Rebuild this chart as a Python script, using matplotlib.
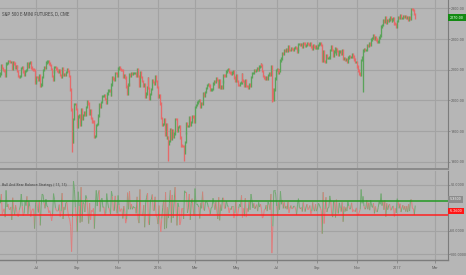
import numpy as np
import matplotlib.pyplot as plt
from matplotlib import font_manager
from matplotlib.collections import LineCollection

# daily closes, one list per month (May 7 2015 .. Jan 31 2017)
closes_by_month = [
    [2088, 2116, 2105, 2099, 2098, 2081, 2121, 2122, 2129, 2128, 2125, 2126, 2104, 2123, 2120, 2107],
    [2112, 2110, 2096, 2080, 2077, 2080, 2105, 2108, 2094, 2084, 2096, 2100, 2121, 2110, 2122, 2124,
     2108, 2102, 2101, 2099, 2057, 2063],
    [2077, 2076, 2068, 2081, 2047, 2052, 2077, 2100, 2109, 2108, 2124, 2127, 2129, 2120, 2115, 2103,
     2080, 2068, 2094, 2109, 2109, 2104],
    [2098, 2093, 2099, 2083, 2077, 2104, 2084, 2086, 2083, 2092, 2102, 2096, 2079, 2035, 1971, 1893,
     1867, 1940, 1988, 1989, 1972],
    [1914, 1948, 1951, 1921, 1970, 1942, 1953, 1961, 1953, 1978, 1996, 1990, 1958, 1967, 1943, 1939,
     1932, 1931, 1881, 1884, 1920],
    [1923, 1951, 1987, 1980, 1995, 2014, 2015, 2017, 2004, 1994, 2023, 2033, 2033, 2030, 2018, 2052,
     2075, 2071, 2066, 2090, 2089, 2079],
    [2104, 2109, 2102, 2100, 2099, 2078, 2081, 2075, 2045, 2023, 2053, 2051, 2084, 2082, 2089, 2087,
     2089, 2089, 2090, 2080],
    [2102, 2080, 2049, 2091, 2077, 2063, 2047, 2052, 2012, 2022, 2043, 2073, 2041, 2006, 2021, 2038,
     2065, 2061, 2056, 2078, 2063, 2044],
    [2012, 2016, 1990, 1943, 1922, 1923, 1938, 1890, 1922, 1880, 1881, 1860, 1869, 1907, 1877, 1903,
     1883, 1893, 1940],
    [1939, 1903, 1913, 1915, 1880, 1853, 1852, 1851, 1829, 1864, 1895, 1927, 1917, 1917, 1945, 1921,
     1930, 1949, 1948, 1932],
    [1978, 1986, 1994, 1999, 2001, 1980, 1990, 1989, 2022, 2020, 2015, 2027, 2040, 2050, 2052, 2049,
     2036, 2036, 2037, 2056, 2064, 2060],
    [2073, 2067, 2045, 2066, 2041, 2047, 2042, 2062, 2082, 2081, 2080, 2094, 2100, 2102, 2092, 2091,
     2087, 2091, 2095, 2075, 2065],
    [2081, 2064, 2051, 2050, 2057, 2059, 2084, 2065, 2064, 2047, 2066, 2048, 2047, 2040, 2052, 2048,
     2076, 2090, 2090, 2099, 2097],
    [2099, 2105, 2099, 2110, 2112, 2119, 2116, 2096, 2079, 2075, 2072, 2077, 2071, 2083, 2089, 2085,
     2113, 2037, 2001, 2036, 2071, 2099],
    [2103, 2089, 2100, 2096, 2130, 2137, 2153, 2152, 2163, 2162, 2166, 2163, 2175, 2165, 2164, 2169,
     2167, 2166, 2170, 2173],
    [2171, 2157, 2164, 2183, 2183, 2181, 2182, 2175, 2186, 2185, 2178, 2180, 2187, 2183, 2182, 2187,
     2175, 2169, 2180, 2176, 2170, 2177, 2171],
    [2171, 2180, 2186, 2186, 2181, 2128, 2160, 2128, 2125, 2147, 2139, 2139, 2140, 2164, 2177, 2165,
     2146, 2160, 2171, 2151, 2168],
    [2161, 2150, 2160, 2160, 2153, 2164, 2136, 2139, 2132, 2133, 2127, 2140, 2144, 2141, 2141, 2151,
     2143, 2139, 2133, 2126, 2126],
    [2111, 2097, 2088, 2085, 2131, 2140, 2163, 2167, 2164, 2164, 2180, 2177, 2187, 2182, 2198, 2203,
     2204, 2213, 2202, 2205, 2199],
    [2191, 2192, 2205, 2212, 2241, 2246, 2260, 2256, 2271, 2253, 2262, 2258, 2263, 2270, 2265, 2261,
     2264, 2268, 2250, 2249, 2239],
    [2258, 2270, 2269, 2277, 2269, 2269, 2275, 2271, 2275, 2268, 2272, 2264, 2271, 2265, 2281, 2298,
     2297, 2295, 2281, 2270],
]
first_open = 2080
wick = 4
# (bar index, low) for the long lower shadows
spike_lows = [(75, 1831), (177, 1804), (193, 1802), (286, 1995), (382, 2028)]

# Bull And Bear Balance values, same month blocks
bbb_by_month = [
    [10, 30, -13, -7, -2, -20, 38, 2, 8, -2, -4, 2, -26, 22, -4, -15],
    [6, -3, -17, -19, -4, 4, 30, 4, -17, -12, 14, 5, 25, -13, 14, 3, -19, -7, -2, -3, -45, 8],
    [17, -1, -10, 16, -38, 6, 30, 28, 11, -1, 19, 4, 2, -11, -6, -14, -28, -14, 31, 18, 0, -6],
    [-7, -6, 7, -19, -7, 32, -24, 2, -4, 11, 12, -7, -20, -25, -40, -95, -20, 58, 40, 1, -20],
    [-52, 35, 4, -32, 45, -30, 12, 9, -9, 27, 20, -7, -34, 10, -26, -5, -8, -1, -45, 4, 38],
    [4, 30, 38, -8, 17, 21, 1, 2, -15, -12, 31, 12, 0, -4, -14, 36, 25, -5, -6, 26, -1, -12],
    [27, 6, -8, -3, -2, -23, 4, -7, -33, -24, 33, -3, 36, -3, 8, -3, 3, 0, 1, -12],
    [24, -24, -33, 40, -15, -15, -17, 6, -42, 11, 23, 32, -34, -37, 16, 18, 29, -5, -6, 24, -16, -20],
    [-35, 5, -28, -52, -23, 1, 16, -46, 34, -44, 1, -22, 10, 38, -32, 28, -22, 11, 45],
    [-1, -38, 11, 2, -37, -29, -1, -1, -24, 37, 33, 34, -11, 0, 30, -26, 10, 20, -1, -17],
    [42, 9, 9, 6, 2, -23, 11, -1, 35, -2, -6, 13, 14, 11, 2, -3, -14, 0, 1, 21, 9, -4],
    [14, -7, -24, 23, -27, 7, -6, 22, 22, -1, -1, 15, 7, 2, -11, -1, -4, 4, 4, -22, -11],
    [17, -18, -14, -1, 8, 2, 27, -21, -1, -18, 21, -20, -1, -8, 13, -4, 30, 15, 0, 10, -2],
    [2, 7, -7, 12, 2, 8, -3, -22, -19, -4, -3, 6, -7, 13, 7, -4, 30, -98, -40, 38, 38, 30],
    [4, -15, 12, -4, 36, 8, 17, -1, 12, -1, 4, -3, 13, -11, -1, 5, -2, -1, 4, 3],
    [-2, -15, 8, 20, 0, -2, 1, -8, 12, -1, -8, 2, 8, -4, -1, 5, -13, -7, 12, -4, -7, 8, -7],
    [0, 10, 7, 0, -6, -56, 34, -34, -3, 23, -9, 0, 1, 26, 14, -13, -20, 15, 12, -21, 18],
    [-8, -12, 11, 0, -8, 12, -30, 3, -8, 1, -7, 14, 4, -3, 0, 11, -9, -4, -7, -8, 0],
    [-16, -15, -10, -3, 40, 10, 25, 4, -3, 0, 17, -3, 11, -5, 17, 5, 1, 10, -12, 3, -7],
    [-9, 1, 14, 8, 31, 5, 15, -4, 16, -19, 10, -4, 5, 8, -5, -4, 3, 4, -19, -1, -11],
    [20, 13, -1, 9, -9, 0, 6, -4, 4, -8, 4, -9, 8, -7, 17, 18, -1, -2, -15, 5],
]
bull_level = 15
bear_level = -15
last_bull = 5.35
last_bear = -5.26

# labels for month starts (May 2015 .. Mar 2017); Feb 2017 has 20 sessions
month_names = ['May', 'Jun', 'Jul', 'Aug', 'Sep', 'Oct', 'Nov', 'Dec', '2016', 'Feb', 'Mar', 'Apr',
               'May', 'Jun', 'Jul', 'Aug', 'Sep', 'Oct', 'Nov', 'Dec', '2017', 'Feb', 'Mar']
feb_2017_sessions = 20
shown_months = ['Jul', 'Sep', 'Nov', '2016', 'Mar', 'May', 'Jul', 'Sep', 'Nov', '2017', 'Mar']

price_ticks = [1800, 1900, 2000, 2100, 2200, 2300]
bbb_ticks = [50, -50, -100]

bg = '#b6b6b6'
grid_c = '#a3a3a3'
green = '#5aa35a'
red = '#e56a6a'
txt = '#626262'

# a narrow face if one is installed, else plain sans
have = {f.name for f in font_manager.fontManager.ttflist}
fam = 'DejaVu Sans'
for cand in ['Liberation Sans Narrow', 'DejaVu Sans Condensed', 'Roboto Condensed',
             'Open Sans Condensed', 'Liberation Sans']:
    if cand in have:
        fam = cand
        break
narrow = [fam, 'DejaVu Sans']

close = np.concatenate([np.array(m, float) for m in closes_by_month])
bbb = np.concatenate([np.array(m, float) for m in bbb_by_month])
n = len(close)
x = np.arange(n)
open_ = np.r_[first_open, close[:-1]]
up = close >= open_
high = np.maximum(open_, close) + wick
low = np.minimum(open_, close) - wick
for i, v in spike_lows:
    low[i] = v

lens = [len(m) for m in closes_by_month] + [feb_2017_sessions]
starts = np.r_[0, np.cumsum(lens)]
tick_pos = []
tick_lab = []
j = 0
for pos, name in zip(starts, month_names):
    if pos > 0 and j < len(shown_months) and name == shown_months[j]:
        tick_pos.append(pos)
        tick_lab.append(name)
        j += 1

W, H = 466, 275
fig = plt.figure(figsize=(W / 100, H / 100), dpi=100, facecolor=bg)
renderer = fig.canvas.get_renderer()


def fit_size(s, target_px):
    t = fig.text(0, 0, s, fontsize=10, family=narrow)
    w = t.get_window_extent(renderer).width
    t.remove()
    return 10 * target_px / w


fs_title = fit_size('S&P 500 E-MINI FUTURES, D, CME', 68)
fs_ind = fit_size('Bull And Bear Balance Strategy (-15, 15)', 64)
fs_y = fit_size('2300.00', 13.5)
fs_x = fit_size('2016', 8.5)

ax1 = fig.add_axes([0, 1 - 169 / H, 448 / W, 169 / H], facecolor=bg)
ax2 = fig.add_axes([0, 1 - 260 / H, 448 / W, 89 / H], facecolor=bg)
xlim = (-0.4, 471.5)

# price pane
ax1.vlines(x, low, high, colors=np.where(up, green, red), linewidth=0.95)
ax1.set_xlim(*xlim)
ax1.set_ylim(1777, 2327)
ax1.set_yticks(price_ticks)
ax1.set_yticklabels(['%.2f' % v for v in price_ticks])
ax1.set_xticks(tick_pos)
ax1.tick_params(axis='x', length=0, labelbottom=False)
ax1.annotate('%.2f' % close[-1], xy=(1, close[-1]), xycoords=('axes fraction', 'data'),
             xytext=(1.4, 0), textcoords='offset points', va='center', ha='left',
             fontsize=fs_y, family=narrow, color='#e8ffe8',
             bbox=dict(boxstyle='square,pad=0.4', fc='#138a13', ec='none'), annotation_clip=False)
fig.text(2 / W, 1 - 14 / H, 'S&P 500 E-MINI FUTURES, D, CME', fontsize=fs_title, family=narrow,
         color='#4a4a4a', va='center')

# indicator pane
pts = np.column_stack([x, bbb]).reshape(-1, 1, 2)
segs = np.concatenate([pts[:-1], pts[1:]], axis=1)
seg_cols = np.where(bbb[1:] >= 0, '#72a872', '#df7e7e')
ax2.add_collection(LineCollection(segs, colors=seg_cols, linewidths=0.7))
ax2.axhline(bull_level, color='#229a22', lw=1.1)
ax2.axhline(bear_level, color='#ff2020', lw=1.1)
ax2.set_xlim(*xlim)
ax2.set_ylim(-113, 80)
ax2.set_yticks(bbb_ticks)
ax2.set_yticklabels(['%.4f' % v for v in bbb_ticks])
ax2.set_xticks(tick_pos)
ax2.set_xticklabels(tick_lab)
ax2.annotate('%.4f' % last_bull, xy=(1, last_bull), xycoords=('axes fraction', 'data'),
             xytext=(1.4, 4.5), textcoords='offset points', va='center', ha='left',
             fontsize=fs_y, family=narrow, color='#f0f0f0',
             bbox=dict(boxstyle='square,pad=0.35', fc='#8c8c8c', ec='none'), annotation_clip=False)
ax2.annotate('%.4f' % last_bear, xy=(1, last_bear), xycoords=('axes fraction', 'data'),
             xytext=(1.4, -0.5), textcoords='offset points', va='center', ha='left',
             fontsize=fs_y, family=narrow, color='#ffe0e0',
             bbox=dict(boxstyle='square,pad=0.35', fc='#ff1515', ec='none'), annotation_clip=False)
fig.text(2 / W, 1 - 185 / H, 'Bull And Bear Balance Strategy (-15, 15)', fontsize=fs_ind,
         family=narrow, color='#4a4a4a', va='center')

for ax in (ax1, ax2):
    ax.grid(True, color=grid_c, linewidth=0.8)
    ax.set_axisbelow(True)
    ax.yaxis.tick_right()
    ax.tick_params(axis='y', length=1.2, width=0.5, color='#7a7a7a', pad=0.5,
                   labelsize=fs_y, labelcolor=txt)
    for lab in ax.get_yticklabels():
        lab.set_family(narrow)
    for s in ('left', 'top'):
        ax.spines[s].set_visible(False)
    ax.spines['right'].set_color('#7c7c7c')
    ax.spines['right'].set_linewidth(0.8)
ax1.spines['bottom'].set_color('#8a8a8a')
ax1.spines['bottom'].set_linewidth(1.4)
ax2.spines['bottom'].set_color('#7c7c7c')
ax2.spines['bottom'].set_linewidth(1.0)
ax2.tick_params(axis='x', length=2, width=0.5, color='#7a7a7a', pad=2,
                labelsize=fs_x, labelcolor=txt)
for lab in ax2.get_xticklabels():
    lab.set_family(narrow)

fig.savefig('out.png', dpi=100, facecolor=bg)
